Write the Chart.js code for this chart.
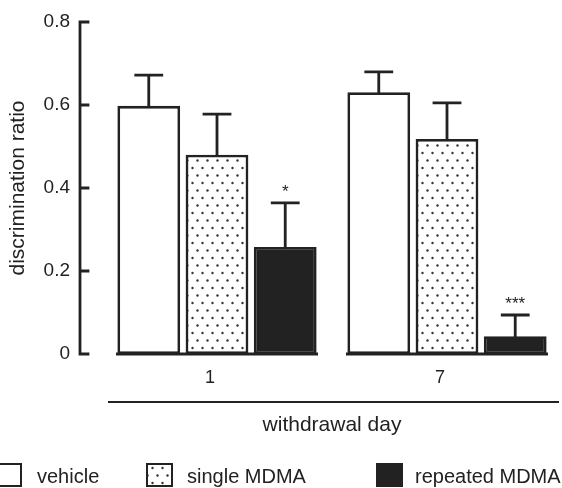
<!DOCTYPE html>
<html>
<head>
<meta charset="utf-8">
<script src="https://cdn.jsdelivr.net/npm/chart.js@4.4.1/dist/chart.umd.min.js"></script>
<style>
    html, body { margin: 0; padding: 0; background: #fff; }
    canvas { display: block; }
</style>
</head>
<body>
<canvas id="myChart" width="562" height="488"></canvas>
<script>
const days = ['1', '7'];
const groups = ['vehicle', 'single MDMA', 'repeated MDMA'];

const vehicleMean = [0.598, 0.631];
const vehicleSem = [0.074, 0.049];
const singleMean = [0.480, 0.518];
const singleSem = [0.098, 0.087];
const repeatedMean = [0.258, 0.043];
const repeatedSem = [0.106, 0.051];
const repeatedStars = ['*', '***'];

const ink = '#222';
const family = '"Liberation Sans", Arial, Helvetica, sans-serif';

const canvas = document.getElementById('myChart');

// dotted fill used for the single MDMA bars
const makeDots = () => {
    const c = document.createElement('canvas');
    c.width = 10;
    c.height = 15;
    const g = c.getContext('2d');
    g.fillStyle = '#fff';
    g.fillRect(0, 0, 10, 15);
    g.fillStyle = '#333';
    [[2.5, 3], [7.5, 10.5]].forEach(([px, py]) => {
        g.beginPath();
        g.arc(px, py, 1.2, 0, Math.PI * 2);
        g.fill();
    });
    return canvas.getContext('2d').createPattern(c, 'repeat');
};
const dots = makeDots();

const fills = ['#fff', dots, ink];

const extras = {
    id: 'extras',
    afterDatasetsDraw(chart) {
        const {ctx, chartArea, scales: {x, y}} = chart;
        ctx.save();
        ctx.strokeStyle = ink;
        ctx.fillStyle = ink;
        ctx.lineWidth = 2.8;
        ctx.lineCap = 'square';

        // error bars (upper only) and significance stars
        chart.data.datasets.forEach((ds, i) => {
            chart.getDatasetMeta(i).data.forEach((bar, j) => {
                const top = y.getPixelForValue(ds.data[j] + ds.sem[j]);
                ctx.beginPath();
                ctx.moveTo(bar.x, bar.y);
                ctx.lineTo(bar.x, top);
                ctx.moveTo(bar.x - 13, top);
                ctx.lineTo(bar.x + 13, top);
                ctx.stroke();
                if (ds.stars && ds.stars[j]) {
                    ctx.font = '17px ' + family;
                    ctx.textAlign = 'center';
                    ctx.textBaseline = 'alphabetic';
                    ctx.fillText(ds.stars[j], bar.x, top - 6);
                }
            });
        });

        // baseline under each group of bars
        const zero = y.getPixelForValue(0);
        const n = chart.data.datasets.length;
        days.forEach((d, j) => {
            const first = chart.getDatasetMeta(0).data[j];
            const last = chart.getDatasetMeta(n - 1).data[j];
            ctx.beginPath();
            ctx.moveTo(first.x - first.width / 2, zero);
            ctx.lineTo(last.x + last.width / 2, zero);
            ctx.stroke();
        });

        // y axis with inward ticks
        const ax = chartArea.left - 22;
        ctx.beginPath();
        ctx.moveTo(ax, y.getPixelForValue(y.max));
        ctx.lineTo(ax, zero);
        y.ticks.forEach(t => {
            const py = y.getPixelForValue(t.value);
            ctx.moveTo(ax, py);
            ctx.lineTo(ax + 8, py);
        });
        ctx.stroke();

        // line between day labels and axis title
        ctx.lineWidth = 2;
        ctx.lineCap = 'butt';
        ctx.beginPath();
        ctx.moveTo(chartArea.left + 6, x.top + 48);
        ctx.lineTo(chartArea.right - 3, x.top + 48);
        ctx.stroke();

        // legend
        const boxX = [-4, 147, 377];
        const textX = [37, 187, 415];
        ctx.font = '20px ' + family;
        ctx.textAlign = 'left';
        ctx.textBaseline = 'alphabetic';
        groups.forEach((g, i) => {
            ctx.fillStyle = fills[i];
            ctx.fillRect(boxX[i], 464, 25, 22);
            ctx.lineWidth = 2;
            ctx.strokeRect(boxX[i], 464, 25, 22);
            ctx.fillStyle = ink;
            ctx.fillText(g, textX[i], 483);
        });
        ctx.restore();
    }
};

const barStyle = {
    borderColor: ink,
    borderWidth: 2.8,
    borderSkipped: false,
    categoryPercentage: 0.89,
    barPercentage: 0.92
};

const data = {
    labels: days,
    datasets: [
        {label: groups[0], data: vehicleMean, sem: vehicleSem, backgroundColor: fills[0], ...barStyle},
        {label: groups[1], data: singleMean, sem: singleSem, backgroundColor: fills[1], ...barStyle},
        {label: groups[2], data: repeatedMean, sem: repeatedSem, stars: repeatedStars, backgroundColor: fills[2], ...barStyle}
    ]
};

const config = {
    type: 'bar',
    data: data,
    options: {
        responsive: false,
        animation: false,
        layout: {padding: {top: 22, right: 0, bottom: 48, left: 0}},
        plugins: {
            legend: {display: false},
            tooltip: {enabled: false}
        },
        scales: {
            x: {
                grid: {display: false, drawTicks: false},
                border: {display: false},
                ticks: {color: ink, font: {family: family, size: 18}, padding: 13, labelOffset: -7},
                title: {
                    display: true,
                    text: 'withdrawal day',
                    color: ink,
                    font: {family: family, size: 21},
                    padding: {top: 0, bottom: 2}
                },
                afterFit: s => { s.height = 86; }
            },
            y: {
                min: 0,
                max: 0.8,
                grid: {display: false, drawTicks: false},
                border: {display: false},
                ticks: {stepSize: 0.2, color: ink, font: {family: family, size: 19}, padding: 32},
                title: {
                    display: true,
                    text: 'discrimination ratio',
                    color: ink,
                    font: {family: family, size: 21},
                    padding: {top: 6, bottom: 0}
                },
                afterFit: s => {
                    s.width = 102;
                    s.paddingTop = 0;
                    s.paddingBottom = 0;
                }
            }
        }
    },
    plugins: [extras]
};

const myChart = new Chart(canvas, config);
</script>
</body>
</html>
